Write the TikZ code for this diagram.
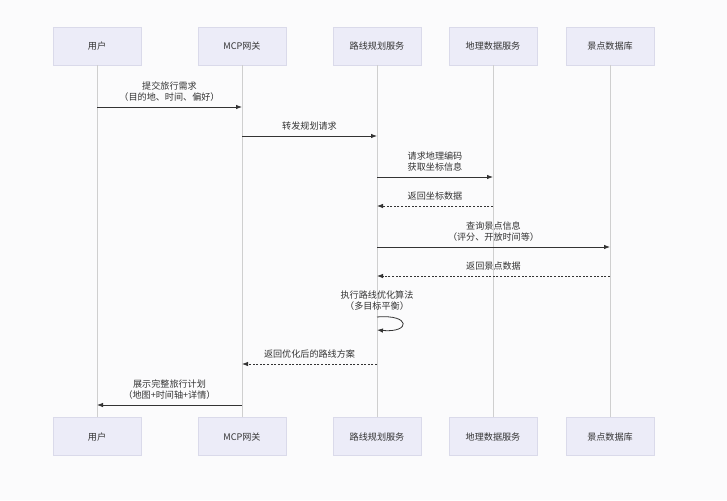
\documentclass[tikz,border=0pt]{standalone}
\usepackage{fontspec}
\setmainfont{Noto Sans CJK SC}
\usepackage{xcolor}
\usepackage{tikz}
\usetikzlibrary{positioning, arrows.meta, calc}
\definecolor{actorBg}{HTML}{ECECF8}
\definecolor{actorEdge}{HTML}{DADAEA}
\definecolor{lifeGray}{HTML}{CFCFCF}
\definecolor{inkDark}{HTML}{333333}
\definecolor{pageBg}{HTML}{FBFBFC}

\begin{document}
\begin{tikzpicture}[
  x=1pt, y=-1pt,
  every node/.style={font=\fontsize{9.1}{11.5}\selectfont, text=inkDark},
  actor/.style={rectangle, draw=actorEdge, line width=0.6pt, fill=actorBg,
                minimum width=88pt, minimum height=38pt, align=center},
  life/.style={draw=lifeGray, line width=0.8pt},
  msg/.style={draw=inkDark, line width=0.8pt, -{Latex[length=6pt, width=4.5pt]}},
  reply/.style={msg, dash pattern=on 2pt off 1.6pt},
  lbl/.style={align=center, above=4pt, inner sep=1pt},
]
  \fill[pageBg] (0,0) rectangle (727,500);
  \useasboundingbox (0,0) rectangle (727,500);

  % participants, top row
  \node[actor] (userT) at (97,46)  {用户};
  \node[actor] (gwT)   at (242,46) {MCP网关};
  \node[actor] (rtT)   at (377,46) {路线规划服务};
  \node[actor] (geoT)  at (493,46) {地理数据服务};
  \node[actor] (poiT)  at (610,46) {景点数据库};

  % participants, bottom row
  \node[actor, below=352pt of userT] (userB) {用户};
  \node[actor, below=352pt of gwT]   (gwB)   {MCP网关};
  \node[actor, below=352pt of rtT]   (rtB)   {路线规划服务};
  \node[actor, below=352pt of geoT]  (geoB)  {地理数据服务};
  \node[actor, below=352pt of poiT]  (poiB)  {景点数据库};

  % lifelines
  \draw[life] (userT) -- (userB);
  \draw[life] (gwT) -- (gwB);
  \draw[life] (rtT) -- (rtB);
  \draw[life] (geoT) -- (geoB);
  \draw[life] (poiT) -- (poiB);

  % messages
  \draw[msg] (userT |- 0,107) -- node[lbl] (l1) {提交旅行需求\\（目的地、时间、偏好）} (gwT |- 0,107);
  \draw[msg] (gwT |- 0,136) -- node[lbl] (l2) {转发规划请求} (rtT |- 0,136);
  \draw[msg] (rtT |- 0,177) -- node[lbl] (l3) {请求地理编码\\获取坐标信息} (geoT |- 0,177);
  \draw[reply] (geoT |- 0,206) -- node[lbl] (l4) {返回坐标数据} (rtT |- 0,206);
  \draw[msg] (rtT |- 0,247) -- node[lbl] (l5) {查询景点信息\\（评分、开放时间等）} (poiT |- 0,247);
  \draw[reply] (poiT |- 0,276) -- node[lbl] (l6) {返回景点数据} (rtT |- 0,276);

  % self call on the route service
  \coordinate (loopA) at (rtT |- 0,317);
  \coordinate (loopB) at (rtT |- 0,330);
  \node[align=center, above=5pt of loopA, inner sep=1pt] (l7) {执行路线优化算法\\（多目标平衡）};
  \draw[msg] (loopA) .. controls ($(loopA)+(34,-3)$) and ($(loopB)+(34,3)$) .. (loopB);

  \draw[reply] (rtT |- 0,364) -- node[lbl] (l8) {返回优化后的路线方案} (gwT |- 0,364);
  \draw[msg] (gwT |- 0,405) -- node[lbl] (l9) {展示完整旅行计划\\（地图+时间轴+详情）} (userT |- 0,405);
\end{tikzpicture}
\end{document}
